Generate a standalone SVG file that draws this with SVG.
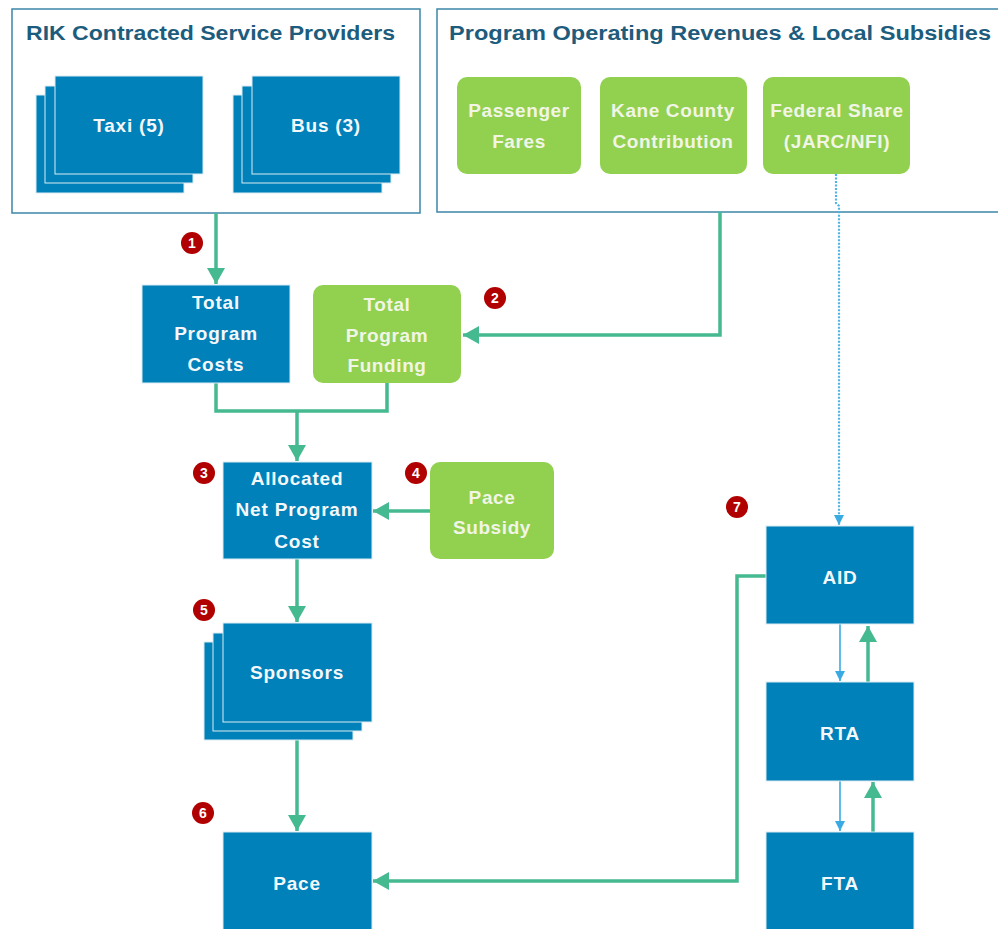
<svg xmlns="http://www.w3.org/2000/svg" width="998" height="929" viewBox="0 0 998 929">
<style>
.cont{fill:#fff;stroke:#3d87a9;stroke-width:1.5}
.title{font-family:"Liberation Sans",Arial,sans-serif;font-weight:bold;font-size:20px;fill:#1d5c7c}
.blue{fill:#0081b9;stroke:#dcebf3;stroke-width:1}
.green{fill:#92d050}
.bt{font-family:"Liberation Sans",Arial,sans-serif;font-weight:bold;font-size:19px;fill:#f4f8fb;text-anchor:middle;letter-spacing:0.8px}
.gt{font-family:"Liberation Sans",Arial,sans-serif;font-weight:bold;font-size:19px;fill:#f1f5e6;text-anchor:middle;letter-spacing:0.6px}
.gline{fill:none;stroke:#45b990;stroke-width:3.5}
.bline{fill:none;stroke:#3aaae2;stroke-width:1.6}
.dline{fill:none;stroke:#4fb3e4;stroke-width:2.2;stroke-dasharray:2 1.5}
.badge circle{fill:#b00000}
.badge text{font-family:"Liberation Sans",Arial,sans-serif;font-weight:bold;font-size:14px;fill:#fff;text-anchor:middle}
</style>
<defs>
<marker id="ag" markerUnits="userSpaceOnUse" markerWidth="16" markerHeight="18" refX="16" refY="9" orient="auto">
<path d="M0,0 L16,9 L0,18 Z" fill="#45b990"/>
</marker>
<marker id="ab" markerUnits="userSpaceOnUse" markerWidth="10" markerHeight="10" refX="10" refY="5" orient="auto">
<path d="M0,0 L10,5 L0,10 Z" fill="#3aaae2"/>
</marker>
</defs>
<rect width="998" height="929" fill="#fff"/>

<g id="rik-group">
<rect class="cont" x="12" y="9" width="408" height="204"/>
<text class="title" x="26" y="40" textLength="369" lengthAdjust="spacingAndGlyphs">RIK Contracted Service Providers</text>
</g>
<g id="revenues-group">
<rect class="cont" x="437" y="9" width="570" height="203"/>
<text class="title" x="449" y="40" textLength="542" lengthAdjust="spacingAndGlyphs">Program Operating Revenues &amp; Local Subsidies</text>
</g>

<g id="connectors">
<path class="gline" d="M216,213 V284" marker-end="url(#ag)"/>
<path class="gline" d="M720,212 V335 H463" marker-end="url(#ag)"/>
<path class="gline" d="M216,383 V411 H387 V383"/>
<path class="gline" d="M297,411 V461" marker-end="url(#ag)"/>
<path class="gline" d="M430,511 H373" marker-end="url(#ag)"/>
<path class="gline" d="M297,559 V622" marker-end="url(#ag)"/>
<path class="gline" d="M297,722 V831" marker-end="url(#ag)"/>
<path class="gline" d="M766,576 H737 V881 H373" marker-end="url(#ag)"/>
<path class="dline" d="M836,174 V203 L839,206 V525" marker-end="url(#ab)"/>
<path class="bline" d="M840,624 V681" marker-end="url(#ab)"/>
<path class="bline" d="M840,781 V831" marker-end="url(#ab)"/>
<path class="gline" d="M868,682 V626" marker-end="url(#ag)"/>
<path class="gline" d="M873,832 V782" marker-end="url(#ag)"/>
</g>

<g id="taxi">
<rect class="blue" x="36" y="95" width="148" height="98"/>
<rect class="blue" x="45" y="86" width="148" height="97"/>
<rect class="blue" x="55" y="76" width="148" height="98"/>
<text class="bt" x="129" y="132">Taxi (5)</text>
</g>
<g id="bus">
<rect class="blue" x="233" y="95" width="149" height="98"/>
<rect class="blue" x="242" y="86" width="149" height="97"/>
<rect class="blue" x="252" y="76" width="148" height="98"/>
<text class="bt" x="326" y="132">Bus (3)</text>
</g>

<g id="passenger-fares">
<rect class="green" x="457" y="77" width="124" height="97" rx="10"/>
<text class="gt" x="519" y="117">Passenger</text>
<text class="gt" x="519" y="148">Fares</text>
</g>
<g id="kane-county">
<rect class="green" x="600" y="77" width="147" height="97" rx="10"/>
<text class="gt" x="673" y="117">Kane County</text>
<text class="gt" x="673" y="148">Contribution</text>
</g>
<g id="federal-share">
<rect class="green" x="763" y="77" width="147" height="97" rx="10"/>
<text class="gt" x="837" y="117">Federal Share</text>
<text class="gt" x="837" y="148">(JARC/NFI)</text>
</g>

<g id="total-program-costs">
<rect class="blue" x="142" y="285" width="148" height="98"/>
<text class="bt" x="216" y="309">Total</text>
<text class="bt" x="216" y="340">Program</text>
<text class="bt" x="216" y="371">Costs</text>
</g>
<g id="total-program-funding">
<rect class="green" x="313" y="285" width="148" height="98" rx="10"/>
<text class="gt" x="387" y="311">Total</text>
<text class="gt" x="387" y="342">Program</text>
<text class="gt" x="387" y="372">Funding</text>
</g>

<g id="allocated-net-program-cost">
<rect class="blue" x="223" y="462" width="149" height="97"/>
<text class="bt" x="297" y="485">Allocated</text>
<text class="bt" x="297" y="516">Net Program</text>
<text class="bt" x="297" y="548">Cost</text>
</g>
<g id="pace-subsidy">
<rect class="green" x="430" y="462" width="124" height="97" rx="10"/>
<text class="gt" x="492" y="504">Pace</text>
<text class="gt" x="492" y="534">Subsidy</text>
</g>

<g id="sponsors">
<rect class="blue" x="204" y="642" width="149" height="98"/>
<rect class="blue" x="213" y="633" width="149" height="98"/>
<rect class="blue" x="223" y="623" width="149" height="99"/>
<text class="bt" x="297" y="679">Sponsors</text>
</g>

<g id="pace">
<rect class="blue" x="223" y="832" width="149" height="100"/>
<text class="bt" x="297" y="890">Pace</text>
</g>

<g id="aid">
<rect class="blue" x="766" y="526" width="148" height="98"/>
<text class="bt" x="840" y="584">AID</text>
</g>
<g id="rta">
<rect class="blue" x="766" y="682" width="148" height="99"/>
<text class="bt" x="840" y="740">RTA</text>
</g>
<g id="fta">
<rect class="blue" x="766" y="832" width="148" height="100"/>
<text class="bt" x="840" y="890">FTA</text>
</g>

<g id="badges">
<g class="badge"><circle cx="192" cy="243" r="11"/><text x="192" y="248">1</text></g>
<g class="badge"><circle cx="495" cy="298" r="11"/><text x="495" y="303">2</text></g>
<g class="badge"><circle cx="204" cy="473" r="11"/><text x="204" y="478">3</text></g>
<g class="badge"><circle cx="416" cy="473" r="11"/><text x="416" y="478">4</text></g>
<g class="badge"><circle cx="204" cy="610" r="11"/><text x="204" y="615">5</text></g>
<g class="badge"><circle cx="203" cy="813" r="11"/><text x="203" y="818">6</text></g>
<g class="badge"><circle cx="737" cy="507" r="11"/><text x="737" y="512">7</text></g>
</g>
</svg>
